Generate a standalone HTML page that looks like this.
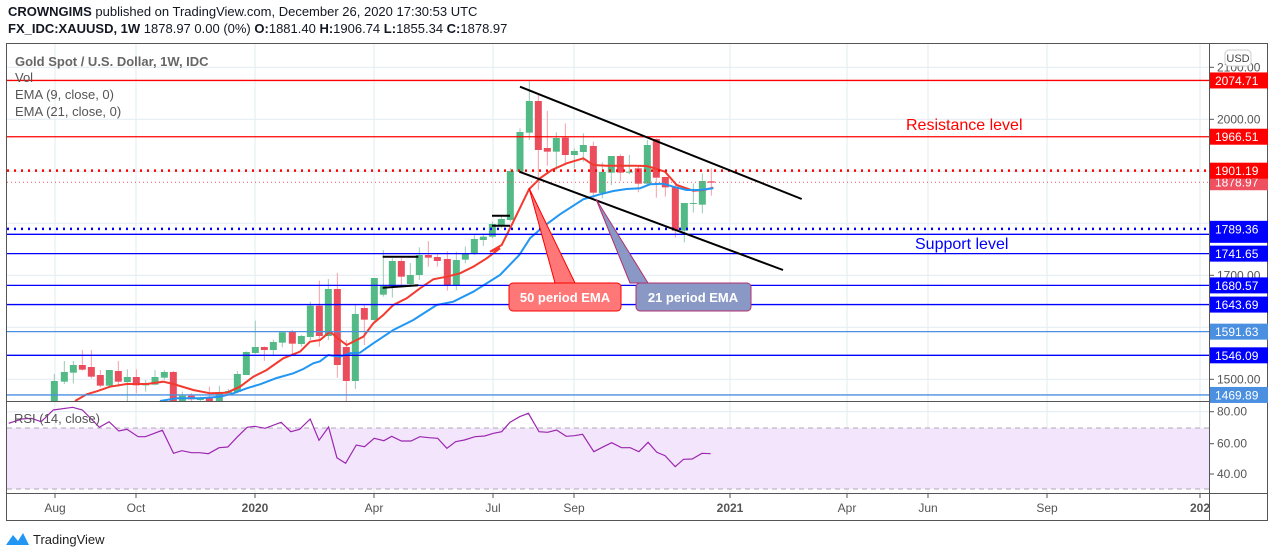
<!DOCTYPE html>
<html><head><meta charset="utf-8"><style>
body{margin:0;background:#fff;width:1274px;height:557px;overflow:hidden;font-family:"Liberation Sans",sans-serif}
.h{position:absolute;left:8px;font-size:13px;color:#131722}
</style></head><body>
<div class="h" style="top:4px"><b>CROWNGIMS</b> published on TradingView.com, December 26, 2020 17:30:53 UTC</div>
<div class="h" style="top:21px"><b>FX_IDC:XAUUSD, 1W</b> 1878.97 0.00 (0%) <b>O:</b>1881.40 <b>H:</b>1906.74 <b>L:</b>1855.34 <b>C:</b>1878.97</div>
<svg id="s" width="1274" height="557" style="position:absolute;left:0;top:0" font-family="Liberation Sans, sans-serif"></svg>
<script>
const s=document.getElementById('s');let h='';
const py=p=>119.3+(2000-p)*0.52;
[55,136,255,374,493,574,730,847,928,1047,1200].forEach(x=>{h+=`<line x1="${x}" y1="43" x2="${x}" y2="493" stroke="#e1ecf2"/>`});
[2100,2000,1900,1800,1700,1600,1500].forEach(p=>{h+=`<line x1="7" y1="${py(p)}" x2="1209" y2="${py(p)}" stroke="#e1ecf2"/>`});
[411.7,443.7,474].forEach(y=>{h+=`<line x1="7" y1="${y}" x2="1209" y2="${y}" stroke="#e1ecf2"/>`});
h+=`<rect x="7" y="428" width="1202" height="61" fill="#f3e6fc"/>`;
h+=`<line x1="7" y1="428" x2="1209" y2="428" stroke="#b2a8b8" stroke-dasharray="5,4"/><line x1="7" y1="489" x2="1209" y2="489" stroke="#b2a8b8" stroke-dasharray="5,4"/>`;
const c3=[[163,453,513,432,513,1],[193,426,455,393,462,1],[220,405,428,393,460,1],[247,405,419,360,422,0],[274,411,440,360,445,0],[301,435,467,420,472,0],[328,420,467,420,470,1],[355,423,455,393,470,0],[382,441,456,418,513,1],[409,441,466,418,490,0],[437,460,466,450,485,1],[465,441,464,420,466,1],[493,426,443,420,450,1],[520,426,513,423,513,0],[547,497,513,485,513,1],[574,497,508,490,513,0],[601,504,510,500,513,1],[628,504,513,470,513,0],[658,487,513,467,513,1],[685,483,489,477,492,1],[712,432,486,423,490,1],[739,366,435,364,435,1],[766,351,369,272,372,1],[793,351,360,349,393,0],[820,336,360,329,375,1],[847,307,338,305,352,1],[877,304,341,300,372,0],[904,318,342,315,350,1],[931,227,321,215,330,1],[958,227,318,152,350,0],[985,177,318,147,330,1],[1012,177,405,129,443,0],[1039,351,453,330,513,0],[1066,252,453,222,477,1],[1093,234,269,222,345,0],[1123,144,270,144,275,1],[1150,168,194,60,200,1],[1177,93,168,85,203,1],[1204,93,140,85,165,0],[1231,135,162,99,167,1],[1258,75,135,52,150,1],[1285,75,83,33,110,0],[1312,81,93,69,110,0],[1342,87,165,64,182,0],[1369,90,165,65,180,1],[1396,69,89,50,100,1],[1423,27,72,15,75,1],[1450,20,30,10,48,1]];
const c4=[[37,447,485,440,490,1],[64,432,452,420,460,1],[91,288,435,280,440,1],[120,171,290,160,295,1],[148,78,173,15,195,1],[175,78,225,60,345,0],[202,219,230,108,272,0],[229,189,230,172,285,1],[256,188,240,145,268,0],[283,228,240,220,280,1],[310,210,231,175,260,1],[340,213,353,200,370,0],[367,291,354,262,370,1],[394,243,293,243,330,1],[421,243,293,238,318,0],[448,290,293,240,298,1],[475,280,326,270,352,0],[502,210,326,195,330,1],[529,192,308,190,368,0],[556,306,337,306,365,0],[586,335,467,330,488,0],[613,384,467,384,502,1],[640,384,386,325,413,1],[667,318,389,295,415,1],[694,319,323,280,362,0]];
function cd(a,ox,oy){a.forEach(c=>{const x=c[0]/3+ox,col=c[5]?'#53b987':'#eb4d5c',wc=c[5]?'#9cc9b3':'#f2a0a8';
const b=v=>Math.min(v/3+oy,401);
h+=`<line x1="${x}" y1="${b(c[3])}" x2="${x}" y2="${b(c[4])}" stroke="${wc}"/>`;
h+=`<rect x="${x-3.5}" y="${b(c[1])}" width="7" height="${Math.max(1,b(c[2])-b(c[1]))}" fill="${col}"/>`;});}
cd(c3,0,230);cd(c4,480,75);
function pl(a,ox,oy){return a.map(p=>`${(p[0]/3+ox).toFixed(1)},${(p[1]/3+oy).toFixed(1)}`).join(' ')}
const r3=[[225,513],[260,493],[290,484],[330,470],[380,462],[440,462],[490,455],[520,462],[580,480],[630,490],[680,488],[720,470],[760,440],[800,420],[850,385],[900,365],[930,335],[960,330],[990,305],[1020,330],[1040,345],[1070,330],[1090,320],[1120,280],[1150,255],[1180,225],[1220,205],[1260,175],[1300,148],[1340,140],[1380,130],[1420,110],[1460,85],[1500,55]];
const r4=[[30,530],[65,510],[100,440],[147,343],[180,310],[215,285],[260,265],[310,250],[340,270],[380,272],[420,272],[460,272],[500,273],[530,282],[555,290],[590,330],[640,347],[670,345],[700,338]];
const b3=[[480,513],[530,505],[600,505],[660,500],[700,490],[740,475],[780,463],[830,444],[880,430],[910,417],[940,400],[960,394],[985,375],[1020,380],[1050,370],[1080,368],[1120,340],[1180,300],[1240,270],[1310,225],[1360,215],[1420,185],[1500,135]];
const b4=[[118,540],[150,490],[190,455],[240,418],[310,373],[360,358],[400,348],[440,342],[480,340],[510,328],[550,326],[580,335],[620,345],[660,345],[700,340]];
h+=`<polyline fill="none" stroke="#f23a2f" stroke-width="2" points="${pl(r3,0,230)} ${pl(r4,480,75)}"/>`;
h+=`<polyline fill="none" stroke="#2196f3" stroke-width="2" points="${pl(b3,0,230)} ${pl(b4,480,75)}"/>`;
const L=[[2074.71,'#f00',0,'#f00'],[1966.51,'#f00',0,'#f00'],[1878.97,'#ee5566',2,'#ef5060'],[1901.19,'#f00',1,'#f00'],[1789.36,'#00f',1,'#00f'],[1741.65,'#00f',0,'#00f'],[1680.57,'#00f',0,'#00f'],[1643.69,'#00f',0,'#00f'],[1591.63,'#4a8fe0',0,'#4a8fe0'],[1546.09,'#00f',0,'#00f'],[1469.89,'#4a8fe0',0,'#4a8fe0']];
h+=`<line x1="7" y1="234.3" x2="1209" y2="234.3" stroke="#00f" stroke-width="1.3"/>`;
L.forEach(l=>{const y=py(l[0]);const d=l[2]==1?'stroke-dasharray="2,5" stroke-width="2.5"':l[2]==2?'stroke-dasharray="1,3"':'stroke-width="1.3"';
h+=`<line x1="7" y1="${y}" x2="1209" y2="${y}" stroke="${l[1]}" ${d}/>`;});
h+=`<g stroke="#000" stroke-width="2"><line x1="520" y1="86.7" x2="801.7" y2="199"/><line x1="519.3" y1="171.7" x2="783" y2="270"/>
<line x1="492" y1="215.7" x2="510" y2="215.7"/><line x1="492" y1="225.7" x2="510" y2="225.7"/>
<line x1="382.7" y1="256.7" x2="418.3" y2="256.7"/><line x1="382.7" y1="287.7" x2="418.3" y2="285.3"/></g>`;
h+=`<polygon points="529,188 555,283 575,283" fill="#f77" stroke="#f00"/><rect x="509" y="283" width="112" height="28" rx="4" fill="#f77" stroke="#f00"/>
<text x="565" y="302" fill="#fff" font-size="13" font-weight="bold" text-anchor="middle">50 period EMA</text>`;
h+=`<polygon points="596,199 630,283 648,283" fill="#8a98c6" stroke="#b03070"/><rect x="636" y="283" width="115" height="28" rx="4" fill="#8a98c6" stroke="#b03070"/>
<text x="693" y="302" fill="#fff" font-size="13" font-weight="bold" text-anchor="middle">21 period EMA</text>`;
h+=`<text x="906" y="130" fill="#f00" font-size="16">Resistance level</text><text x="915" y="249" fill="#00f" font-size="16">Support level</text>`;
const R=[[18,85],[45,72],[65,70],[85,80],[110,45],[150,37],[170,45],[205,97],[225,80],[245,108],[262,103],[285,125],[300,125],[335,106],[358,175],[375,167],[395,173],[412,173],[430,176],[452,158],[470,156],[490,125],[510,97],[525,94],[547,100],[580,82],[600,110],[618,103],[640,72],[658,136],[678,96],[695,188],[713,205],[735,150],[752,155],[772,130],[792,137],[808,124],[828,138],[848,138],[866,125],[885,128],[903,130],[922,160],[940,140],[958,135],[980,125],[1000,123],[1018,115],[1035,110],[1052,82],[1072,65],[1090,55],[1112,110],[1130,112],[1148,105],[1168,124],[1185,122],[1202,118],[1225,170],[1245,155],[1262,143],[1282,158],[1300,158],[1318,170],[1337,142],[1355,172],[1372,182],[1393,215],[1410,193],[1428,192],[1448,175],[1466,176]];
h+=`<polyline fill="none" stroke="#9c27b0" stroke-width="1.2" points="${R.map(p=>`${(p[0]/2.063).toFixed(1)},${(p[1]/3+395).toFixed(1)}`).join(' ')}"/>`;
h+=`<g font-size="13" fill="#555"><text x="15" y="66" font-weight="bold" fill="#666">Gold Spot / U.S. Dollar, 1W, IDC</text><text x="15" y="82">Vol</text><text x="15" y="99">EMA (9, close, 0)</text><text x="15" y="116">EMA (21, close, 0)</text><text x="14" y="423">RSI (14, close)</text></g>`;
h+=`<rect x="6.5" y="43.5" width="1261" height="477" fill="none" stroke="#555"/><line x1="1209.5" y1="43" x2="1209.5" y2="520" stroke="#555"/>
<line x1="7" y1="401.5" x2="1268" y2="401.5" stroke="#555"/><line x1="7" y1="493.5" x2="1268" y2="493.5" stroke="#555"/>`;
h+=`<g font-size="12" fill="#555">`;
[[2100,67],[2000,0],[1700,0],[1500,0]].forEach(a=>{const y=py(a[0]);h+=`<line x1="1210" y1="${y}" x2="1214" y2="${y}" stroke="#555"/><text x="1217" y="${y+4}">${a[0]}.00</text>`});
[[80,411.7],[60,443.7],[40,474]].forEach(a=>{h+=`<line x1="1210" y1="${a[1]}" x2="1214" y2="${a[1]}" stroke="#555"/><text x="1217" y="${a[1]+4}">${a[0]}.00</text>`});
[['Aug',55],['Oct',136],['2020',255],['Apr',374],['Jul',493],['Sep',574],['2021',730],['Apr',847],['Jun',928],['Sep',1047],['202',1200]].forEach(a=>{h+=`<line x1="${a[1]}" y1="494" x2="${a[1]}" y2="498" stroke="#555"/><text x="${a[1]}" y="512" text-anchor="middle" ${/^\d/.test(a[0])?'font-weight="bold"':''}>${a[0]}</text>`});
h+=`</g>`;
L.forEach(l=>{const y=py(l[0]);const tall=l[0]==1789.36;h+=`<rect x="1210" y="${y-8}" width="58" height="${tall?22:16}" fill="${l[3]}"/><text x="1215" y="${y+4.5}" fill="#fff" font-size="12">${l[0].toFixed(2)}</text>`});
h+=`<rect x="1225" y="50" width="26" height="16" rx="4" fill="#fff" stroke="#ccc"/><text x="1238" y="62" font-size="11" fill="#444" text-anchor="middle">USD</text>`;
h+=`<path d="M6,545 L13,535 L18,541 L23,533 L29,545 Z" fill="#2196f3"/><text x="33" y="544" font-size="13" fill="#222">TradingView</text>`;
s.innerHTML=h;
</script>
</body></html>
